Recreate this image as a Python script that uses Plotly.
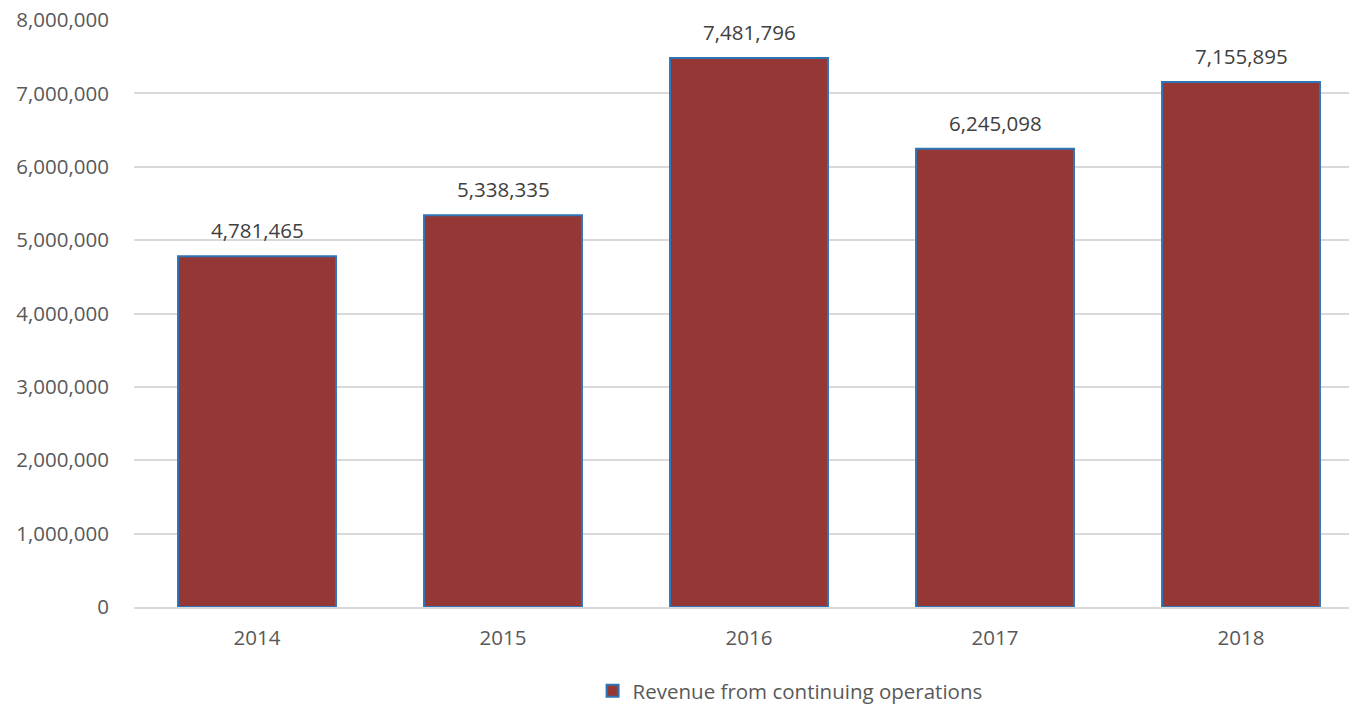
import plotly.graph_objects as go

years = ["2014", "2015", "2016", "2017", "2018"]
revenue = [4781465, 5338335, 7481796, 6245098, 7155895]
series_name = "Revenue from continuing operations"

font_family = "Open Sans, Noto Sans, sans-serif"
gray = "#595959"

fig = go.Figure()
fig.add_trace(go.Bar(
    x=list(range(len(years))),
    y=revenue,
    name=series_name,
    width=0.642,
    marker=dict(color="#953735", line=dict(color="#2E75B6", width=2)),
    showlegend=True,
))

for i, v in enumerate(revenue):
    fig.add_annotation(
        x=i, y=v, xref="x", yref="y",
        text=f"{v:,}", showarrow=False,
        yanchor="bottom", yshift=10,
        font=dict(size=20.5, color="#404040", family=font_family),
    )

fig.update_layout(
    width=1349, height=706,
    margin=dict(l=134, r=0, t=20, b=99, autoexpand=False),
    plot_bgcolor="white", paper_bgcolor="white",
    font=dict(family=font_family, color=gray, size=20),
    xaxis=dict(
        tickmode="array", tickvals=list(range(len(years))), ticktext=years,
        range=[-0.5, 4.439],
        showline=True, linecolor="#D9D9D9", linewidth=1.5,
        showgrid=False, ticks="outside", ticklen=12, tickcolor="rgba(0,0,0,0)",
        tickfont=dict(size=20.5, color=gray),
        automargin=False,
    ),
    yaxis=dict(
        range=[0, 8000000], dtick=1000000,
        tickformat=",d",
        showgrid=True, gridcolor="#D9D9D9", gridwidth=1.5,
        zeroline=False, showline=False,
        ticks="outside", ticklen=20, tickcolor="rgba(0,0,0,0)",
        tickfont=dict(size=20.5, color=gray),
        automargin=False,
    ),
    legend=dict(
        orientation="h", x=0.540, xanchor="center", y=-0.143, yanchor="middle",
        font=dict(size=20.5, color=gray),
        itemwidth=30,
    ),
)

fig.write_html(
    "out.html",
    config={"displayModeBar": False},
    post_script="document.body.style.margin='0';document.body.style.overflow='hidden';",
)
